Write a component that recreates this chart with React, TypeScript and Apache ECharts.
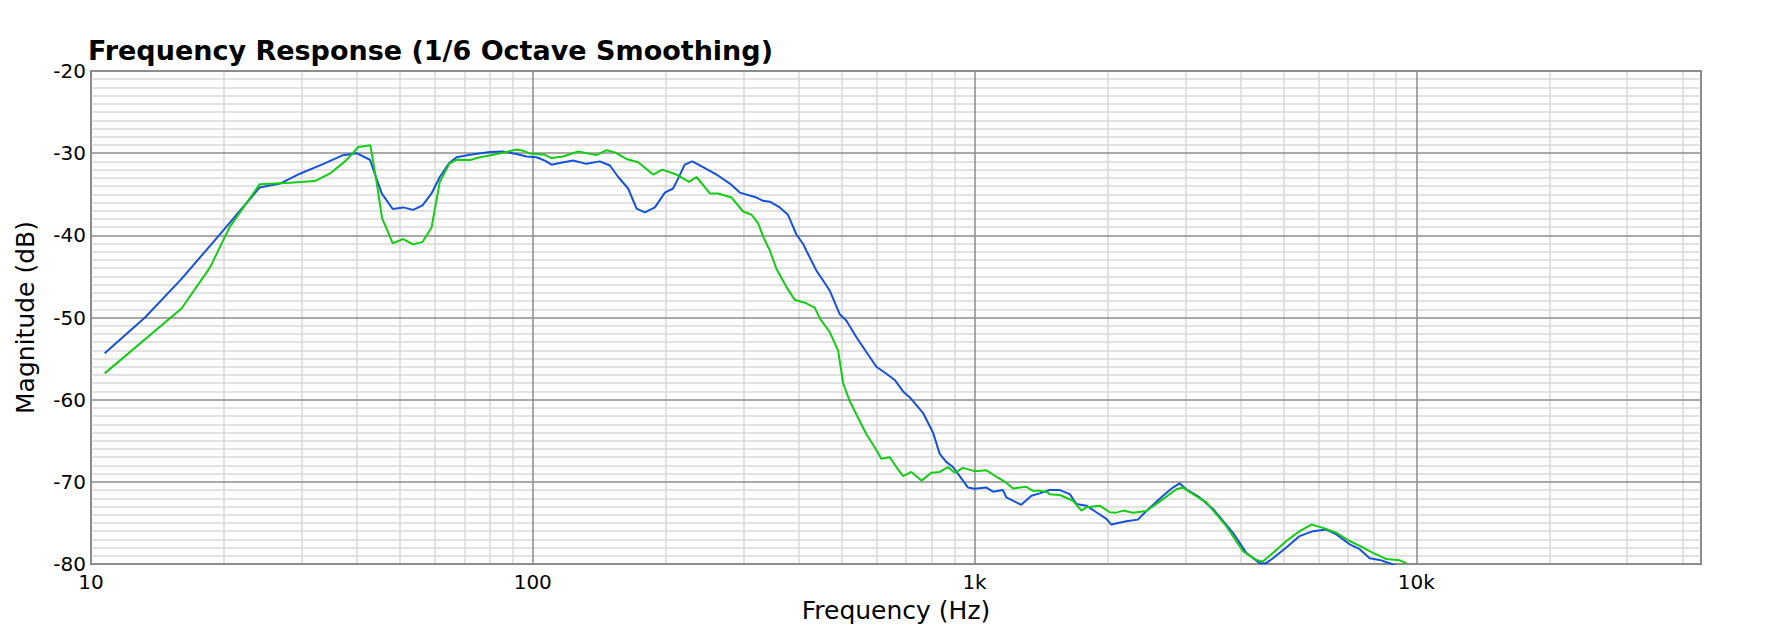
import React, { useEffect, useRef } from "react";
import * as echarts from "echarts";

const blueFreq = [
  10.74, 13.25, 16.03, 19.6, 24.1, 26.8, 29.7, 33.6, 37.2, 39.9, 42.8, 45.5, 48.2, 50.9, 53.6, 56.3, 59.0, 61.6, 64.7, 67.2,
  72.1, 80.0, 85.7, 91.9, 96.8, 102, 106.5, 110.3, 115.1, 123.4, 132.3, 141.8, 149.5, 156.1, 164.4, 171.8, 179.4, 189.0, 199.1, 207.8,
  213.3, 220.8, 229.5, 243, 260.6, 279.3, 294.2, 321, 332.2, 344.1, 362.3, 378.2, 395.2, 409.3, 416.6, 438.6, 454.2, 470.4, 495.2, 513,
  540.3, 569, 599.5, 631.8, 659.7, 689, 713, 764.2, 805.4, 834.1, 863.8, 894, 925.7, 966.8, 1000, 1064, 1101, 1160, 1180, 1243,
  1276, 1345, 1404, 1479, 1560, 1643, 1701, 1792, 1887, 1988, 2040, 2205, 2343, 2449, 2671, 2812, 2913, 3016, 3233, 3466,
  3846, 4122, 4420, 4570, 4737, 5079, 5445, 5837, 6256, 6591, 7066, 7444, 7843, 8262, 8705, 9000,
];
const blueDb = [
  -54.35, -50.0, -45.3, -39.85, -34.17, -33.7, -32.5, -31.3, -30.24, -30.0, -30.8, -34.9, -36.8, -36.6, -36.9, -36.35, -34.9, -32.9, -31.2, -30.5,
  -30.2, -29.85, -29.8, -30.1, -30.4, -30.5, -30.9, -31.4, -31.2, -30.9, -31.3, -31.0, -31.5, -32.9, -34.3, -36.75, -37.2, -36.6, -34.8, -34.3,
  -33.1, -31.4, -31.0, -31.7, -32.6, -33.7, -34.8, -35.4, -35.8, -35.9, -36.6, -37.5, -39.9, -41.05, -41.9, -44.3, -45.5, -46.75, -49.6, -50.4,
  -52.4, -54.2, -56.0, -56.85, -57.6, -59.0, -59.7, -61.6, -64.0, -66.6, -67.6, -68.2, -69.3, -70.7, -70.85, -70.7, -71.2, -71.0, -71.9, -72.5,
  -72.8, -71.7, -71.4, -71.0, -71.0, -71.5, -72.7, -72.9, -73.7, -74.5, -75.2, -74.8, -74.6, -73.55, -71.7, -70.7, -70.2, -70.9, -71.9, -73.3,
  -76.2, -78.65, -79.9, -79.9, -79.3, -78.0, -76.6, -76.0, -75.8, -76.4, -77.6, -78.2, -79.3, -79.5, -79.9, -80.2,
];

const greenFreq = [
  10.74, 16.03, 18.6, 20.6, 24.1, 28.2, 32.1, 34.7, 37.6, 40.3, 42.9, 44.3, 45.6, 48.2, 50.9, 53.6, 56.3, 59.0, 61.6, 64.7,
  67.2, 72.1, 75.9, 81.4, 87.2, 91.9, 95.1, 98.5, 102, 106.5, 110.3, 117.2, 126.6, 139.4, 146.9, 153.4, 162.9, 173.2, 187.3, 196.3,
  211.5, 225.8, 234.8, 251.7, 262.8, 281.8, 299.4, 312.8, 323.7, 332.2, 344.1, 356.2, 375.3, 391.7, 413, 434.8, 446.4, 470.4, 491, 504.2,
  522, 545, 569, 594.3, 615.4, 642.4, 665.3, 689, 719.3, 758.5, 798.8, 834, 871, 901.4, 941.6, 1000, 1064, 1130, 1180, 1222,
  1309, 1356, 1404, 1455, 1479, 1560, 1671, 1745, 1792, 1920, 2023, 2094, 2168, 2284, 2449, 2671, 2863, 2964, 3123, 3347,
  3715, 4052, 4343, 4491, 4737, 5079, 5445, 5787, 6148, 6591, 7066, 7444, 7980, 8556, 9170, 9500,
];
const greenDb = [
  -56.8, -48.9, -43.9, -39.0, -33.77, -33.6, -33.4, -32.5, -31.0, -29.25, -29.05, -33.5, -37.9, -40.98, -40.45, -41.1, -40.8, -39.05, -33.5, -31.3,
  -30.8, -30.83, -30.5, -30.2, -29.85, -29.56, -29.7, -30.05, -30.1, -30.2, -30.6, -30.4, -29.8, -30.24, -29.64, -29.9, -30.7, -31.1, -32.6, -32.0,
  -32.6, -33.5, -32.9, -34.9, -34.9, -35.4, -37.1, -37.5, -38.5, -40.15, -41.85, -44.1, -46.3, -47.85, -48.2, -48.8, -50.1, -51.8, -54.0, -58.0,
  -60.2, -62.2, -64.2, -65.8, -67.2, -67.0, -68.2, -69.3, -68.8, -69.85, -68.9, -68.8, -68.2, -68.9, -68.3, -68.7, -68.6, -69.5, -70.1, -70.8,
  -70.6, -71.1, -71.1, -71.2, -71.5, -71.6, -72.3, -73.5, -73.1, -72.9, -73.7, -73.75, -73.5, -73.75, -73.55, -72.1, -70.9, -70.7, -71.5, -72.5,
  -75.4, -78.45, -79.5, -79.7, -78.65, -77.2, -76.0, -75.2, -75.6, -76.2, -77.2, -77.8, -78.65, -79.4, -79.55, -79.9,
];

const xTickLabels: Record<number, string> = { 10: "10", 100: "100", 1000: "1k", 10000: "10k" };
const minorFreqs = [
  20, 30, 40, 50, 60, 70, 80, 90,
  200, 300, 400, 500, 600, 700, 800, 900,
  2000, 3000, 4000, 5000, 6000, 7000, 8000, 9000,
  20000, 30000, 40000,
];

const FONT = "DejaVu Sans";

export default function App() {
  const ref = useRef<HTMLDivElement>(null);
  useEffect(() => {
    document.body.style.margin = "0";
    const chart = echarts.init(ref.current!, null, { renderer: "svg" });
    chart.setOption({
      animation: false,
      backgroundColor: "#ffffff",
      textStyle: { fontFamily: FONT },
      title: {
        text: "Frequency Response (1/6 Octave Smoothing)",
        left: 88,
        top: 37,
        padding: 0,
        textStyle: { fontSize: 27, fontWeight: "bold", color: "#000", fontFamily: FONT },
      },
      grid: {
        left: 91,
        top: 71,
        right: 65,
        bottom: 78,
        show: true,
        borderColor: "#8c8c8c",
        borderWidth: 2,
        backgroundColor: "transparent",
      },
      xAxis: {
        type: "log",
        logBase: 10,
        min: 10,
        max: 44100,
        name: "Frequency (Hz)",
        nameLocation: "middle",
        nameGap: 34,
        nameTextStyle: { fontSize: 25, color: "#000", fontFamily: FONT },
        axisLine: { show: false },
        axisTick: { show: false },
        axisLabel: {
          fontSize: 20,
          color: "#000",
          margin: 8,
          fontFamily: FONT,
          showMaxLabel: false,
          formatter: (v: number) => xTickLabels[Math.round(v)] ?? "",
        },
        splitLine: { show: true, lineStyle: { color: "#8c8c8c", width: 1.5 } },
      },
      yAxis: {
        type: "value",
        min: -80,
        max: -20,
        interval: 10,
        name: "Magnitude (dB)",
        nameLocation: "middle",
        nameGap: 53,
        nameTextStyle: { fontSize: 25, color: "#000", fontFamily: FONT },
        axisLine: { show: false },
        axisTick: { show: false },
        axisLabel: { fontSize: 20, color: "#000", margin: 5, fontFamily: FONT },
        splitLine: { show: true, lineStyle: { color: "#8c8c8c", width: 1.5 } },
        minorTick: { show: false, splitNumber: 10 },
        minorSplitLine: { show: true, lineStyle: { color: "#d9d9d9", width: 1.5 } },
      },
      series: [
        {
          type: "line",
          data: [],
          z: -1,
          silent: true,
          markLine: {
            z: -1,
            silent: true,
            symbol: ["none", "none"],
            label: { show: false },
            lineStyle: { color: "#d9d9d9", width: 1.5, type: "solid" },
            emphasis: { disabled: true },
            data: minorFreqs.map((v) => ({ xAxis: v })),
          },
        },
        {
          type: "line",
          name: "Blue",
          data: blueFreq.map((f, i) => [f, blueDb[i]]),
          showSymbol: false,
          symbol: "none",
          lineStyle: { color: "#1652d8", width: 2 },
          itemStyle: { color: "#1652d8" },
          z: 3,
        },
        {
          type: "line",
          name: "Green",
          data: greenFreq.map((f, i) => [f, greenDb[i]]),
          showSymbol: false,
          symbol: "none",
          lineStyle: { color: "#14cc14", width: 2 },
          itemStyle: { color: "#14cc14" },
          z: 4,
        },
      ],
    });
    return () => chart.dispose();
  }, []);
  return <div ref={ref} style={{ width: 1766, height: 642 }} />;
}
